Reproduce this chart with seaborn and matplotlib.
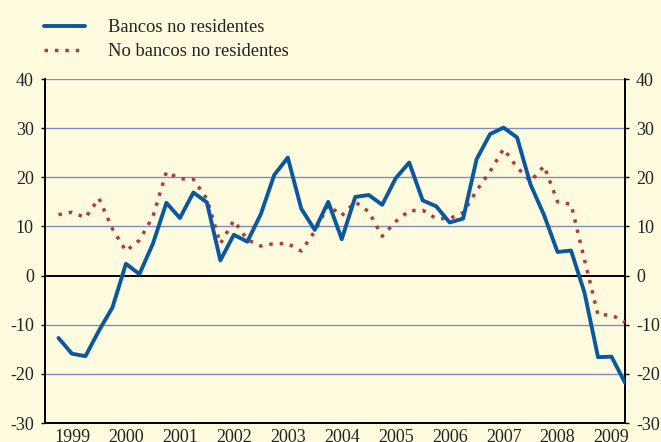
import numpy as np
import pandas as pd
import matplotlib
matplotlib.use("Agg")
import matplotlib.pyplot as plt
import seaborn as sns

# Quarterly data, 1999Q1 - 2009Q3
start_year = 1999
bancos = [-12.7, -15.9, -16.4, -11.2, -6.5, 2.4, 0.3, 6.5,
          14.8, 11.7, 16.9, 14.9, 3.1, 8.3, 6.9, 12.5,
          20.5, 24.0, 13.6, 9.3, 15.0, 7.4, 16.0, 16.4,
          14.4, 19.8, 23.0, 15.3, 14.1, 10.8, 11.6, 23.7,
          28.8, 30.1, 28.1, 18.5, 12.3, 4.8, 5.1, -3.5,
          -16.6, -16.5, -21.8]
no_bancos = [12.4, 12.9, 11.8, 15.7, 9.5, 5.0, 7.2, 12.0,
             21.1, 19.7, 19.6, 15.6, 6.5, 11.2, 7.3, 6.0,
             6.5, 6.5, 5.0, 9.0, 14.3, 12.2, 15.0, 13.0,
             8.0, 11.0, 13.2, 13.3, 11.6, 11.6, 12.8, 17.3,
             21.2, 25.8, 22.0, 19.2, 22.3, 15.0, 14.5, 3.2,
             -8.0, -8.0, -9.5]
year_labels = [str(y) for y in range(1999, 2010)]
yticks = [-30, -20, -10, 0, 10, 20, 30, 40]
series_names = ["Bancos no residentes", "No bancos no residentes"]

n = len(bancos)
xpos = start_year + (np.arange(n) + 1) / 4.0
df = pd.DataFrame({"x": np.concatenate([xpos, xpos]),
                   "v": bancos + no_bancos,
                   "serie": [series_names[0]] * n + [series_names[1]] * n})

sns.set_style("white")
plt.rcParams["font.family"] = ["Liberation Serif", "DejaVu Serif"]

bg = "#fffbdf"
fig = plt.figure(figsize=(6.61, 4.42), dpi=100, facecolor=bg)
ax = fig.add_axes([45 / 661, 1 - 423 / 442, 580 / 661, 344 / 442])
ax.set_facecolor(bg)

for yv in yticks:
    if yv == 0:
        ax.axhline(0, color="black", lw=1.4, zorder=1)
    elif yv != -30:
        ax.axhline(yv, color="#7f8cc8", lw=1.0, zorder=1)

sub1 = df[df.serie == series_names[0]]
sub2 = df[df.serie == series_names[1]]
sns.lineplot(data=sub2, x="x", y="v", ax=ax, color="#b23c3a", lw=2.5,
             linestyle=(0, (1, 2.0)), label=series_names[1], zorder=3)
sns.lineplot(data=sub1, x="x", y="v", ax=ax, color="#0a57a2", lw=2.8,
             label=series_names[0], zorder=4)

ax.set_xlim(start_year, start_year + n / 4.0)
ax.set_ylim(-30, 40)
ax.set_yticks(yticks)
ax.set_yticklabels([str(v) for v in yticks])
ax.set_xticks(np.arange(1999, 2010), minor=False)
ax.set_xticklabels([""] * 11)
ax.set_xticks(np.arange(1999, 2010) + 0.5, minor=True)
ax.set_xticklabels(year_labels, minor=True)
ax.tick_params(axis="x", which="major", direction="out", length=4, width=1, color="black")
ax.tick_params(axis="x", which="minor", length=0, pad=4, labelsize=13)
ax.tick_params(axis="y", which="both", left=True, right=True, labelleft=True, labelright=True,
               length=3, width=1, color="black", labelsize=13, pad=5)
for lab in ax.get_xticklabels(minor=True) + ax.get_yticklabels():
    lab.set_color("#222222")
ax.set_xlabel("")
ax.set_ylabel("")
ax.grid(False)

for s in ["left", "right", "bottom"]:
    ax.spines[s].set_visible(True)
    ax.spines[s].set_color("black")
    ax.spines[s].set_linewidth(1.4)
ax.spines["top"].set_visible(False)

handles, labels = ax.get_legend_handles_labels()
order = [labels.index(series_names[0]), labels.index(series_names[1])]
ax.get_legend().remove()
leg = fig.legend([handles[i] for i in order], [labels[i] for i in order],
                 loc="upper left", bbox_to_anchor=(44 / 661, 0.957), frameon=False,
                 fontsize=13.3, handlelength=2.2, handletextpad=1.25, labelspacing=0.4,
                 borderpad=0, borderaxespad=0)
for t in leg.get_texts():
    t.set_color("#222222")

fig.savefig("out.png", dpi=100, facecolor=bg)
